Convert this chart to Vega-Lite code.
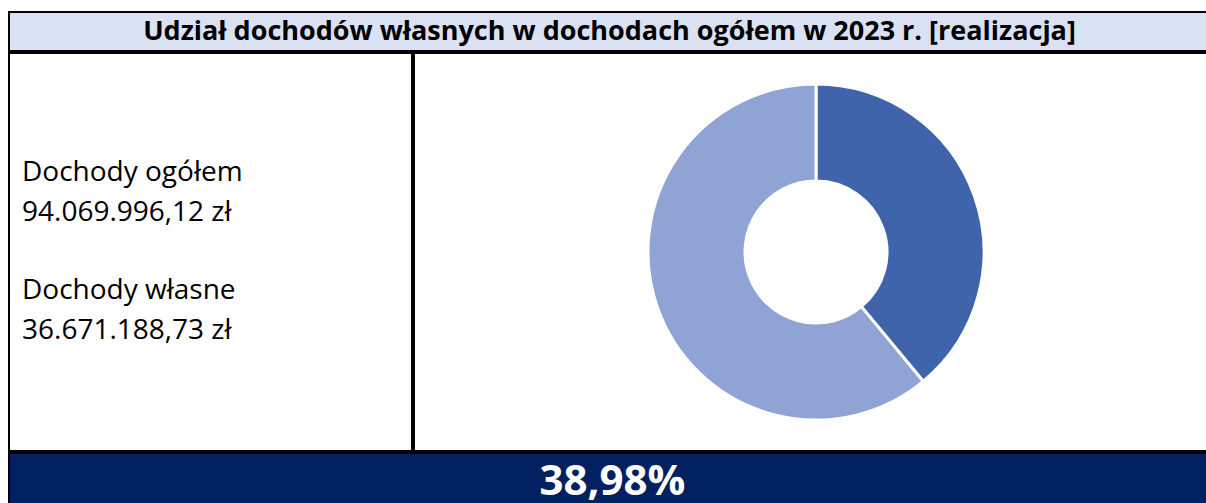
{
  "$schema": "https://vega.github.io/schema/vega-lite/v6.json",
  "padding": {"left": 8, "top": 11, "right": 0, "bottom": 0},
  "background": "white",
  "spacing": 0,
  "config": {
    "view": {"stroke": "black", "strokeWidth": 2},
    "concat": {"spacing": 0},
    "font": "Open Sans"
  },
  "vconcat": [
    {
      "width": 1207,
      "height": 39,
      "view": {"fill": "#d9e1f2", "stroke": "black", "strokeWidth": 2},
      "data": {"values": [{"label": "Udział dochodów własnych w dochodach ogółem w 2023 r. [realizacja]"}]},
      "mark": {"type": "text", "font": "Open Sans", "fontWeight": "bold", "fontSize": 27, "color": "black", "baseline": "middle", "align": "center", "dx": -3},
      "encoding": {
        "x": {"field": "label", "type": "nominal", "axis": null},
        "y": {"field": "label", "type": "nominal", "axis": null},
        "text": {"field": "label"}
      }
    },
    {
      "hconcat": [
        {
          "width": 403,
          "height": 398,
          "view": {"stroke": "black", "strokeWidth": 2},
          "data": {"values": [
            {"row": 1, "col": 0, "line": "Dochody ogółem"},
            {"row": 2, "col": 0, "line": "94.069.996,12 zł"},
            {"row": 4, "col": 0, "line": "Dochody własne"},
            {"row": 5, "col": 0, "line": "36.671.188,73 zł"}
          ]},
          "mark": {"type": "text", "font": "Open Sans", "fontSize": 28, "color": "black", "align": "left", "baseline": "middle", "dx": 13},
          "encoding": {
            "x": {"field": "col", "type": "quantitative", "axis": null, "scale": {"domain": [0, 1]}},
            "y": {"field": "row", "type": "quantitative", "axis": null, "scale": {"domain": [-2.05, 8.05], "reverse": true, "nice": false, "zero": false}},
            "text": {"field": "line"}
          }
        },
        {
          "width": 804,
          "height": 398,
          "view": {"stroke": "black", "strokeWidth": 2},
          "data": {"values": [
            {"category": "Dochody własne", "value": 36671188.73, "order": 1},
            {"category": "Pozostałe dochody", "value": 57398807.39, "order": 2}
          ]},
          "mark": {"type": "arc", "outerRadius": 168, "innerRadius": 71, "stroke": "white", "strokeWidth": 3},
          "encoding": {
            "theta": {"field": "value", "type": "quantitative", "stack": true},
            "order": {"field": "order", "type": "quantitative"},
            "color": {"field": "category", "type": "nominal", "legend": null, "scale": {"domain": ["Dochody własne", "Pozostałe dochody"], "range": ["#3f64ac", "#8fa4d4"]}}
          }
        }
      ],
      "resolve": {"scale": {"x": "independent", "y": "independent"}}
    },
    {
      "width": 1207,
      "height": 56,
      "view": {"fill": "#002060", "stroke": "black", "strokeWidth": 2},
      "data": {"values": [{"label": "38,98%"}]},
      "mark": {"type": "text", "font": "Open Sans", "fontWeight": "bold", "fontSize": 42, "color": "white", "baseline": "middle", "align": "center", "dy": 1},
      "encoding": {
        "x": {"field": "label", "type": "nominal", "axis": null},
        "y": {"field": "label", "type": "nominal", "axis": null},
        "text": {"field": "label"}
      }
    }
  ],
  "resolve": {"scale": {"x": "independent", "y": "independent", "color": "independent"}}
}
